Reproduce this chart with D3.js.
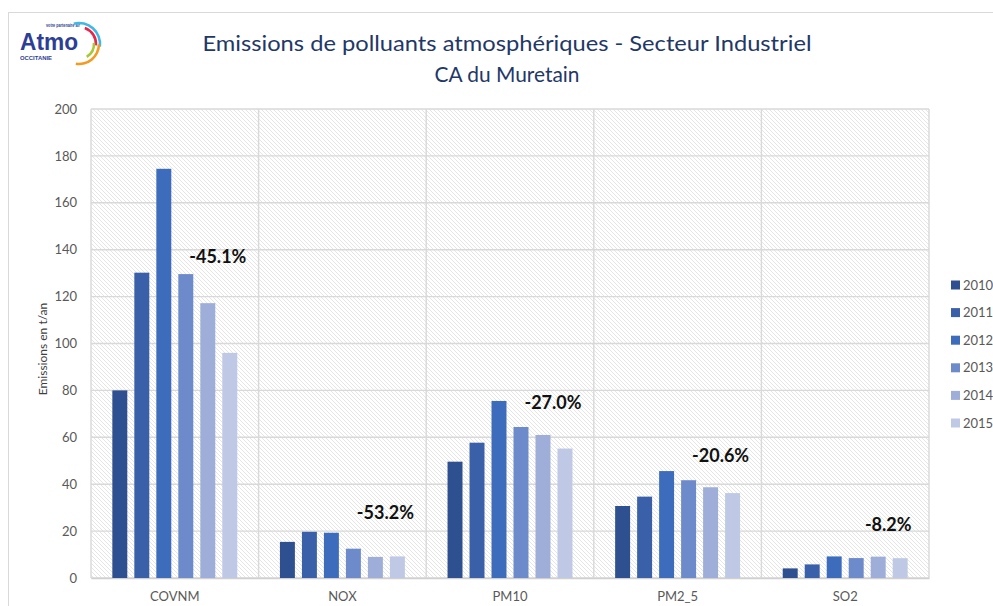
<!DOCTYPE html>
<html>
<head>
<meta charset="utf-8">
<script src="https://cdn.jsdelivr.net/npm/d3@7"></script>
<style>
  body { margin: 0; background: #fff; }
  svg { display: block; font-family: Lato, "Open Sans", sans-serif; }
</style>
</head>
<body>
<svg width="993" height="606"></svg>
<script>
// polluants et années
const categories = ['COVNM', 'NOX', 'PM10', 'PM2_5', 'SO2'];
const years = ['2010', '2011', '2012', '2013', '2014', '2015'];

// émissions en t/an, une liste par année (ordre des catégories)
const v2010 = [80, 15.4, 49.6, 30.7, 4.1];
const v2011 = [130.2, 19.7, 57.7, 34.7, 5.8];
const v2012 = [174.5, 19.3, 75.5, 45.6, 9.2];
const v2013 = [129.6, 12.5, 64.4, 41.7, 8.5];
const v2014 = [117.2, 9.0, 61.0, 38.7, 9.1];
const v2015 = [96.0, 9.2, 55.2, 36.2, 8.45];
const series = [v2010, v2011, v2012, v2013, v2014, v2015];

// évolution affichée au-dessus de chaque groupe, et niveau (t/an) où elle est posée
const notes = ['-45.1%', '-53.2%', '-27.0%', '-20.6%', '-8.2%'];
const noteLevel = [137, 27.7, 74.6, 52, 22.6];

const yTicks = [0, 20, 40, 60, 80, 100, 120, 140, 160, 180, 200];
const colors = ['#2f5090', '#3960a8', '#3e6cbd', '#6d8acb', '#9eaed8', '#bfc9e5'];

const svg = d3.select('svg');

// cadre extérieur
svg.append('rect')
  .attr('x', 8.5).attr('y', 12.5)
  .attr('width', 1000).attr('height', 620)
  .attr('fill', 'none').attr('stroke', '#d9d9d9');

// zone de tracé
const plotL = 91, plotR = 929, plotT = 109, plotB = 578;

const x0 = d3.scaleBand().domain(categories).range([plotL, plotR]);
const x1 = d3.scaleBand().domain(years)
  .range([0, x0.bandwidth()])
  .paddingInner(0.32).paddingOuter(0.97);
const y = d3.scaleLinear().domain([0, 200]).range([plotB, plotT]);

// fond hachuré
const defs = svg.append('defs');
const pat = defs.append('pattern')
  .attr('id', 'hatch')
  .attr('patternUnits', 'userSpaceOnUse')
  .attr('width', 4).attr('height', 4);
pat.append('rect').attr('width', 4).attr('height', 4).attr('fill', '#fff');
pat.append('path')
  .attr('d', 'M-1,-1L5,5M3,-1L5,1M-1,3L1,5')
  .attr('stroke', '#e2e2e2').attr('stroke-width', 0.9);

svg.append('rect')
  .attr('x', plotL).attr('y', plotT)
  .attr('width', plotR - plotL).attr('height', plotB - plotT)
  .attr('fill', 'url(#hatch)');

// grille horizontale
svg.append('g')
  .selectAll('line')
  .data(yTicks)
  .enter()
  .append('line')
  .attr('x1', plotL).attr('x2', plotR)
  .attr('y1', d => y(d)).attr('y2', d => y(d))
  .attr('stroke', '#d9d9d9').attr('stroke-width', 1.4);

// séparateurs verticaux entre catégories
svg.append('g')
  .selectAll('line')
  .data(categories.concat(['end']))
  .enter()
  .append('line')
  .attr('x1', (d, i) => i < categories.length ? x0(d) : plotR)
  .attr('x2', (d, i) => i < categories.length ? x0(d) : plotR)
  .attr('y1', plotT).attr('y2', plotB)
  .attr('stroke', '#d9d9d9').attr('stroke-width', 1.4);

// axe Y (étiquettes seulement)
const yAxis = svg.append('g')
  .attr('transform', `translate(${plotL},0)`)
  .call(d3.axisLeft(y).tickValues(yTicks).tickSize(0).tickPadding(14));
yAxis.select('.domain').remove();
yAxis.selectAll('text')
  .attr('fill', '#595959')
  .style('font-size', '13px')
  .style('font-family', 'Lato, sans-serif');

// axe X
const xAxis = svg.append('g')
  .attr('transform', `translate(0,${plotB})`)
  .call(d3.axisBottom(x0).tickSize(0).tickPadding(14));
xAxis.select('.domain').attr('stroke', '#d0d0d0').attr('stroke-width', 1.4);
xAxis.selectAll('text')
  .attr('fill', '#595959')
  .style('font-size', '13px')
  .style('font-family', 'Lato, sans-serif');

// barres
const groups = svg.append('g')
  .selectAll('g')
  .data(series)
  .enter()
  .append('g')
  .attr('fill', (d, i) => colors[i]);

groups.each(function (vals, si) {
  d3.select(this)
    .selectAll('rect')
    .data(vals)
    .enter()
    .append('rect')
    .attr('x', (d, ci) => x0(categories[ci]) + x1(years[si]))
    .attr('width', x1.bandwidth())
    .attr('y', d => y(d))
    .attr('height', d => y(0) - y(d));
});

// pourcentages d'évolution
svg.append('g')
  .selectAll('text')
  .data(notes)
  .enter()
  .append('text')
  .attr('x', (d, i) => x0(categories[i]) + x0.bandwidth() / 2 + 43)
  .attr('y', (d, i) => y(noteLevel[i]))
  .attr('dy', '0.35em')
  .attr('text-anchor', 'middle')
  .attr('fill', '#111')
  .style('font-size', '18px')
  .style('font-weight', 700)
  .text(d => d);

// titre de l'axe Y
svg.append('text')
  .attr('transform', 'translate(43,349) rotate(-90)')
  .attr('text-anchor', 'middle')
  .attr('dy', '0.35em')
  .attr('fill', '#404040')
  .style('font-size', '12px')
  .text('Emissions en t/an');

// légende
const legend = svg.append('g')
  .selectAll('g')
  .data(years)
  .enter()
  .append('g')
  .attr('transform', (d, i) => `translate(951,${285 + i * 27.6})`);
legend.append('rect')
  .attr('x', 0).attr('y', -4.5)
  .attr('width', 9).attr('height', 9)
  .attr('fill', (d, i) => colors[i]);
legend.append('text')
  .attr('x', 12).attr('dy', '0.35em')
  .attr('fill', '#595959')
  .style('font-size', '13px')
  .text(d => d);

// titre
const title = svg.append('g').attr('fill', '#1f3868')
  .style('font-size', '22px');
title.append('text')
  .attr('x', 507).attr('y', 51)
  .attr('text-anchor', 'middle')
  .attr('textLength', 609).attr('lengthAdjust', 'spacingAndGlyphs')
  .text('Emissions de polluants atmosphériques - Secteur Industriel');
title.append('text')
  .attr('x', 507).attr('y', 82)
  .attr('text-anchor', 'middle')
  .attr('textLength', 145).attr('lengthAdjust', 'spacingAndGlyphs')
  .text('CA du Muretain');

// logo Atmo Occitanie
const logo = svg.append('g');
logo.append('text')
  .attr('x', 20).attr('y', 50)
  .attr('fill', '#2d3e96')
  .style('font-size', '24px').style('font-weight', 700)
  .style('font-family', '"Liberation Sans", sans-serif')
  .attr('textLength', 58).attr('lengthAdjust', 'spacingAndGlyphs')
  .text('Atmo');
logo.append('text')
  .attr('x', 20).attr('y', 60)
  .attr('fill', '#2d3e96')
  .style('font-size', '5.5px').style('font-weight', 700)
  .style('font-family', '"Liberation Sans", sans-serif')
  .attr('textLength', 32).attr('lengthAdjust', 'spacingAndGlyphs')
  .text('OCCITANIE');
logo.append('text')
  .attr('x', 46).attr('y', 27)
  .attr('fill', '#2d3e96')
  .style('font-size', '5px').style('font-weight', 700)
  .style('font-family', '"Liberation Sans", sans-serif')
  .attr('textLength', 34).attr('lengthAdjust', 'spacingAndGlyphs')
  .text('votre partenaire air');
const arc = d3.arc();
const arcs = [
  {r: 21, a0: -0.25, a1: 1.7, c: '#3fb8e6'},
  {r: 17, a0: 0.35, a1: 1.65, c: '#e5264d'},
  {r: 15, a0: 1.5, a1: 2.6, c: '#a8c83a'},
  {r: 20, a0: 1.6, a1: 3.3, c: '#f39a1f'}
];
logo.append('g')
  .attr('transform', 'translate(79,44)')
  .selectAll('path')
  .data(arcs)
  .enter()
  .append('path')
  .attr('d', d => arc({innerRadius: d.r - 1.3, outerRadius: d.r + 1.3, startAngle: d.a0, endAngle: d.a1}))
  .attr('fill', d => d.c);
</script>
</body>
</html>
